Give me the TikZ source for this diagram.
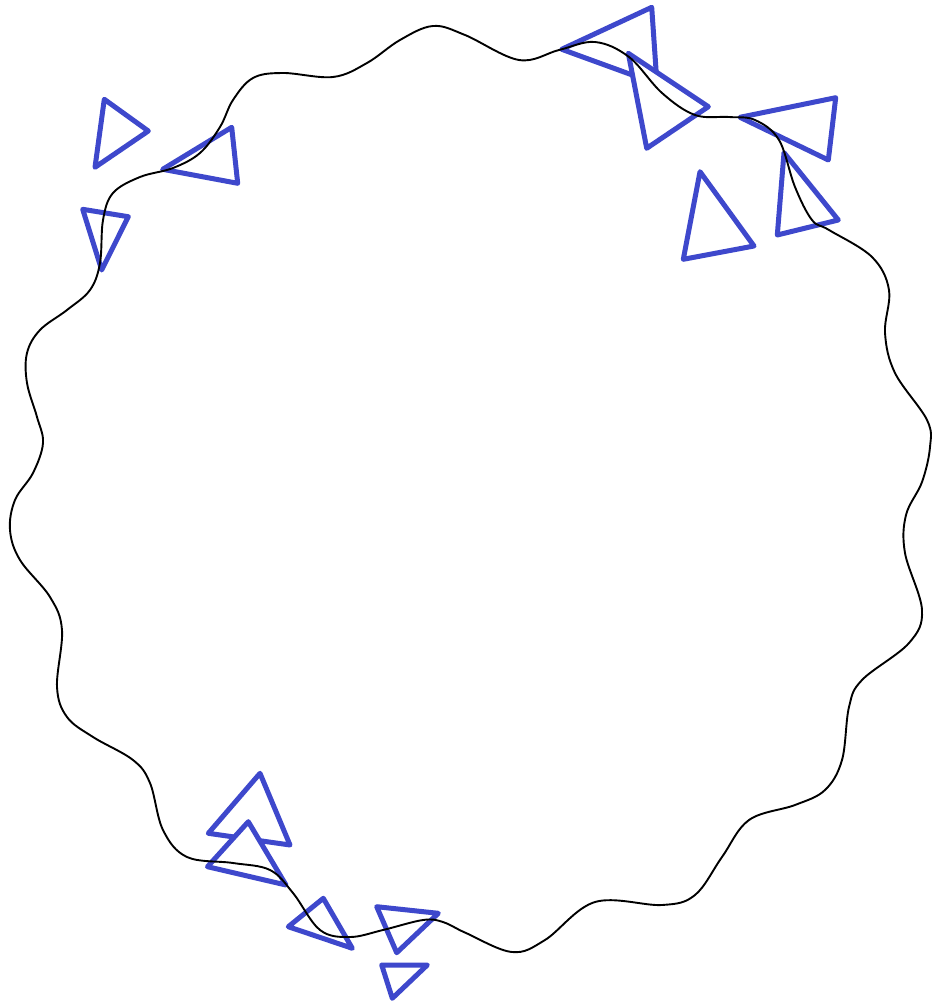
\documentclass[tikz,border=0pt]{standalone}
\begin{document}
\definecolor{triblue}{RGB}{62,72,204}
\begin{tikzpicture}[x=1pt,y=-1pt,
  tri/.style={draw=triblue,fill=white,line width=5pt,line join=round,line cap=round},
  wave/.style={draw=black,line width=1.9pt}]
\useasboundingbox (0,0) rectangle (932,1003);
% triangles (white filled, later ones cover earlier ones)
\draw[tri] (104.3,99.3) -- (148.3,131) -- (95,167.3) -- cycle;
\draw[tri] (162.7,169.3) -- (231.7,127.3) -- (237.7,183.3) -- cycle;
\draw[tri] (82.7,209.3) -- (128.3,216.7) -- (101.7,270) -- cycle;
\draw[tri] (561.7,49.3) -- (651.7,7.3) -- (657,84) -- cycle;
\draw[tri] (628.3,53.3) -- (708.3,106.7) -- (646.7,148.3) -- cycle;
\draw[tri] (740,117.3) -- (835.7,97.7) -- (828.3,160) -- cycle;
\draw[tri] (784,152.7) -- (838.3,220) -- (777.3,235) -- cycle;
\draw[tri] (700,171.7) -- (754,246) -- (683.3,259.3) -- cycle;
\draw[tri] (260,773.3) -- (208.3,833.3) -- (290,845) -- cycle;
\draw[tri] (248.3,821.7) -- (207.5,866.7) -- (286,885) -- cycle;
\draw[tri] (323.3,898.3) -- (288.3,926.7) -- (352.3,948.3) -- cycle;
\draw[tri] (376.7,906.7) -- (438.3,913.3) -- (396.7,952.7) -- cycle;
\draw[tri] (381.7,965) -- (427.3,965) -- (392.3,998.3) -- cycle;
% wavy closed curve
\draw[wave] plot[smooth cycle, tension=0.6] coordinates {
 (433,26) (465,35) (519,60) (559,50) (595,42) (629,57) (662,93) (695,115)
 (729,117) (755,120) (779,140) (795,187) (812,220) (829,230) (872,257)
 (889,290) (885,333) (895,373) (927,420) (930,447) (922,482) (906,515)
 (905,553) (922,610) (909,643) (862,680) (849,707) (842,760) (825,790)
 (795,805) (749,820) (722,857) (695,895) (662,905) (595,902) (545,940)
 (512,952) (466,933) (443,922) (423,920) (383,930) (350,937) (320,930)
 (293,893) (270,870) (233,863) (187,857) (163,830) (150,783) (133,760)
 (93,737) (67,717) (57,687) (62,630) (50,597) (20,560) (10,530) (15,500)
 (33,473) (43,443) (37,417) (27,383) (27,353) (40,330) (67,310) (90,290)
 (100,263) (103,220) (113,193) (140,177) (173,168) (200,153) (220,127)
 (233,100) (253,78) (283,73) (333,77) (367,63) (400,40)};
\end{tikzpicture}
\end{document}
